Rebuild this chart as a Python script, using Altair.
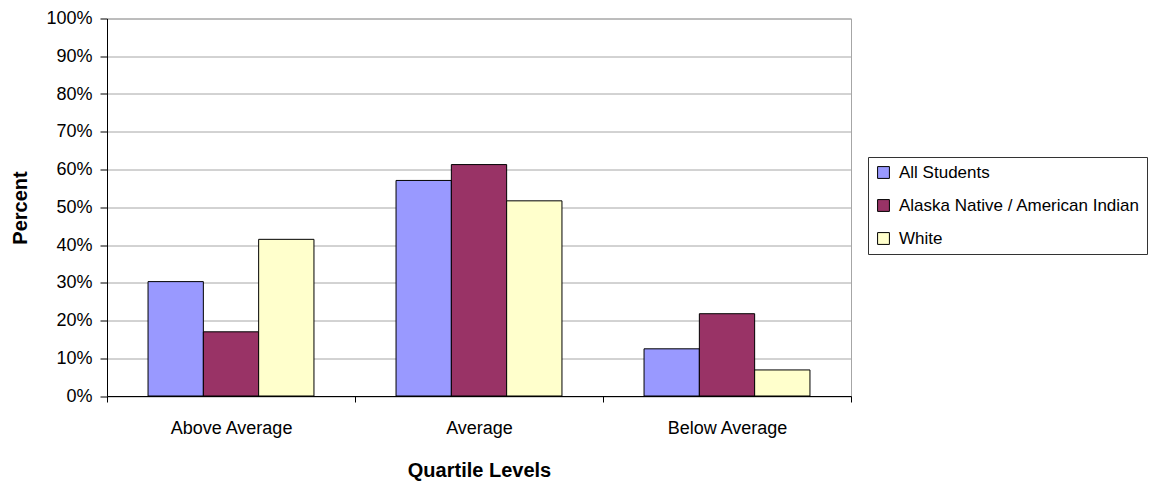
import altair as alt
import pandas as pd

categories = ["Above Average", "Average", "Below Average"]
groups = ["All Students", "Alaska Native / American Indian", "White"]
all_students = [0.303, 0.571, 0.125]
alaska_native = [0.170, 0.613, 0.218]
white = [0.415, 0.517, 0.069]
colors = ["#9999FF", "#993366", "#FFFFCC"]

rows = []
for g, vals in zip(groups, [all_students, alaska_native, white]):
    for c, v in zip(categories, vals):
        rows.append({"Quartile": c, "Group": g, "Percent": v})
df = pd.DataFrame(rows)

FONT = "Liberation Sans"

chart = alt.Chart(df).mark_bar(stroke="black", strokeWidth=1).encode(
    x=alt.X("Quartile:N", sort=categories,
            scale=alt.Scale(paddingInner=0, paddingOuter=0),
            axis=alt.Axis(title="Quartile Levels", labelAngle=0, tickBand="extent",
                          tickSize=6, labelPadding=17, domainColor="black", tickColor="black",
                          titleX=372, titleY=74, titleBaseline="middle", titleAlign="center")),
    xOffset=alt.XOffset("Group:N", sort=groups,
                        scale=alt.Scale(paddingInner=0, paddingOuter=0.742)),
    y=alt.Y("Percent:Q", scale=alt.Scale(domain=[0, 1], nice=False),
            axis=alt.Axis(title="Percent", format=".0%", values=[i / 10 for i in range(11)],
                          tickSize=7, labelPadding=8, domainColor="black", tickColor="black",
                          gridColor="#a6a6a6", titleAngle=270, titleX=-87, titleY=189,
                          titleAlign="center", titleBaseline="middle")),
    color=alt.Color("Group:N", sort=groups,
                    scale=alt.Scale(domain=groups, range=colors),
                    legend=alt.Legend(title=None, orient="none", legendX=761, legendY=138.5,
                                      symbolType="square", symbolSize=140, symbolStrokeColor="black",
                                      symbolStrokeWidth=1, strokeColor="#333333", padding=7,
                                      rowPadding=15, labelFontSize=17, labelFont=FONT,
                                      labelColor="black", labelLimit=400, labelOffset=7)),
).properties(
    width=744, height=377.5,
    autosize=alt.AutoSizeParams(type="none"),
    padding={"left": 99, "top": 10.5, "right": 299, "bottom": 86},
).configure_view(
    stroke="#a6a6a6"
).configure_axis(
    labelFont=FONT, titleFont=FONT, labelFontSize=18, titleFontSize=20,
    labelColor="black", titleColor="black", titleFontWeight="bold", grid=False
).configure_axisY(grid=True)

chart.save("out.html", embed_options={"renderer": "svg", "actions": False})
